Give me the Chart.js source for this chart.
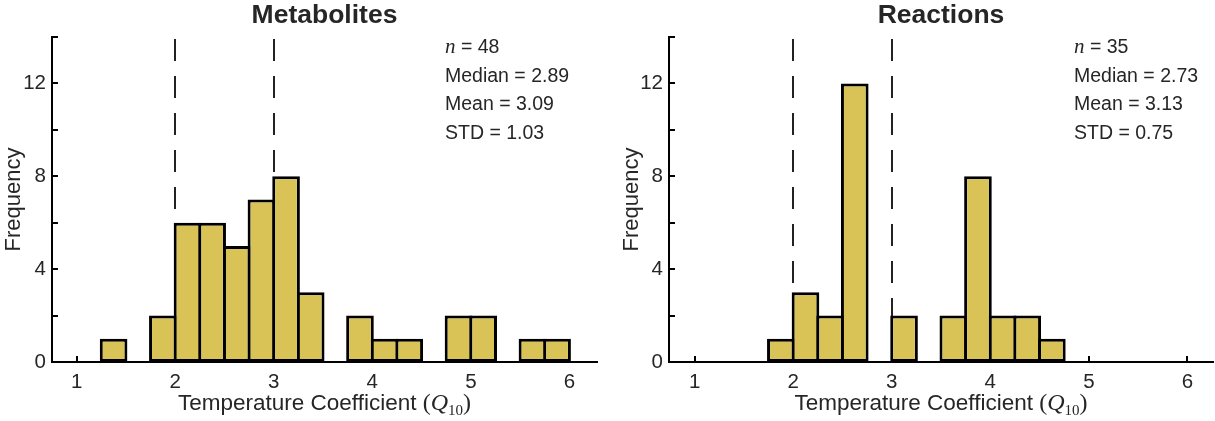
<!DOCTYPE html>
<html>
<head>
<meta charset="utf-8">
<script src="https://cdn.jsdelivr.net/npm/chart.js@4.4.0/dist/chart.umd.min.js"></script>
<style>
  body { margin: 0; background: #fff; }
  #wrap { position: relative; width: 1215px; height: 421px; }
  canvas { position: absolute; top: 0; }
</style>
</head>
<body>
<div id="wrap">
  <canvas id="metabolites" width="607" height="421" style="left:0"></canvas>
  <canvas id="reactions" width="608" height="421" style="left:607px"></canvas>
</div>
<script>
'use strict';

// left edge of every Q10 bin (bin width 0.25)
const binEdges = [1.25, 1.5, 1.75, 2, 2.25, 2.5, 2.75, 3, 3.25, 3.5, 3.75, 4, 4.25, 4.5, 4.75, 5, 5.25, 5.5, 5.75];
const binWidth = 0.25;

const metaboliteCounts = [1, 0, 2, 6, 6, 5, 7, 8, 3, 0, 2, 1, 1, 0, 2, 2, 0, 1, 1];
const reactionCounts = [0, 0, 1, 3, 2, 12, 0, 2, 0, 2, 8, 2, 2, 1, 0, 0, 0, 0, 0];

const metaboliteStats = ['48', '2.89', '3.09', '1.03'];
const reactionStats = ['35', '2.73', '3.13', '0.75'];

const xTicks = [1, 2, 3, 4, 5, 6];
const yTicks = [0, 2, 4, 6, 8, 10, 12, 14];
const yLabelled = [0, 4, 8, 12];
const refLines = [2, 3];

const sans = '"Liberation Sans", Arial, Helvetica, sans-serif';
const serif = '"Liberation Serif", "Times New Roman", serif';
const textColor = '#262626';

function line(ctx, x1, y1, x2, y2) {
    ctx.beginPath();
    ctx.moveTo(x1, y1);
    ctx.lineTo(x2, y2);
    ctx.stroke();
}

// draws inward ticks, dashed guides, title, stats box and the x axis title
const decor = {
    id: 'decor',
    beforeDatasetsDraw(chart, args, opts) {
        const ctx = chart.ctx;
        const a = chart.chartArea;
        const xs = chart.scales.x;
        const ys = chart.scales.y;
        ctx.save();
        ctx.strokeStyle = '#000';
        ctx.lineWidth = 2;
        ys.ticks.forEach(t => {
            let py = Math.round(ys.getPixelForValue(t.value));
            line(ctx, a.left, py, a.left + 6, py);
        });
        xs.ticks.forEach(t => {
            let px = Math.round(xs.getPixelForValue(t.value));
            line(ctx, px, a.bottom, px, a.bottom - 6);
        });

        ctx.strokeStyle = '#222';
        ctx.setLineDash([22, 15]);
        refLines.forEach(v => {
            let px = Math.round(xs.getPixelForValue(v));
            line(ctx, px, a.top + 2, px, a.bottom);
        });
        ctx.restore();
    },
    afterDraw(chart, args, opts) {
        const ctx = chart.ctx;
        const a = chart.chartArea;
        const cx = (a.left + a.right) / 2;
        ctx.save();
        ctx.fillStyle = textColor;

        ctx.font = 'bold 26.5px ' + sans;
        ctx.textAlign = 'center';
        ctx.textBaseline = 'alphabetic';
        ctx.fillText(opts.title, cx, 23);

        // stats
        ctx.textAlign = 'left';
        ctx.textBaseline = 'middle';
        let sx = opts.statsX;
        ctx.font = 'italic 21px ' + serif;
        ctx.fillText('n', sx, 47);
        let nw = ctx.measureText('n').width;
        ctx.font = '19.5px ' + sans;
        ctx.fillText(' = ' + opts.stats[0], sx + nw, 48);
        ctx.fillText('Median = ' + opts.stats[1], sx, 76.5);
        ctx.fillText('Mean = ' + opts.stats[2], sx, 105);
        ctx.fillText('STD = ' + opts.stats[3], sx, 133.5);

        // x axis title with Q10
        let parts = [
            {t: 'Temperature Coefficient ', f: '22.5px ' + sans, dy: 0},
            {t: '(', f: '24px ' + serif, dy: 0},
            {t: 'Q', f: 'italic 24px ' + serif, dy: 0},
            {t: '10', f: '15px ' + serif, dy: 5},
            {t: ')', f: '24px ' + serif, dy: 0}
        ];
        let total = 0;
        parts.forEach(p => { ctx.font = p.f; p.w = ctx.measureText(p.t).width; total += p.w; });
        let px = cx - total / 2;
        ctx.textBaseline = 'alphabetic';
        parts.forEach(p => {
            ctx.font = p.f;
            ctx.fillText(p.t, px, 410 + p.dy);
            px += p.w;
        });
        ctx.restore();
    }
};

function histogram(canvasId, counts, stats, title, setup) {
    let points = [];
    for (let i = 0; i < binEdges.length; i++) {
        points.push({x: binEdges[i] + binWidth / 2, y: counts[i]});
    }
    let ctx = document.getElementById(canvasId).getContext('2d');
    return new Chart(ctx, {
        type: 'bar',
        data: {
            datasets: [{
                data: points,
                backgroundColor: '#D9C356',
                borderColor: '#000',
                borderWidth: 3,
                borderSkipped: false,
                inflateAmount: 0,
                barPercentage: 1.122,
                categoryPercentage: 1
            }]
        },
        options: {
            responsive: false,
            animation: false,
            devicePixelRatio: 1,
            layout: {padding: {top: 37, right: setup.padRight, bottom: 0, left: 0}},
            plugins: {
                legend: {display: false},
                title: {display: false},
                tooltip: {enabled: false},
                decor: {title: title, stats: stats, statsX: setup.statsX}
            },
            scales: {
                x: {
                    type: 'linear',
                    offset: false,
                    min: setup.xMin,
                    max: setup.xMax,
                    afterBuildTicks: s => { s.ticks = xTicks.map(v => ({value: v})); },
                    afterFit: s => { s.height = 59; },
                    grid: {display: false, drawTicks: false},
                    border: {display: true, color: '#000', width: 2},
                    ticks: {
                        color: textColor,
                        font: {family: sans, size: 20.5},
                        padding: 8,
                        maxRotation: 0
                    }
                },
                y: {
                    min: 0,
                    max: 14,
                    afterBuildTicks: s => { s.ticks = yTicks.map(v => ({value: v})); },
                    afterFit: s => { s.width = setup.yWidth; },
                    grid: {display: false, drawTicks: false},
                    border: {display: true, color: '#000', width: 2},
                    ticks: {
                        color: textColor,
                        font: {family: sans, size: 20.5},
                        padding: 6,
                        callback: v => yLabelled.includes(v) ? String(v) : ''
                    },
                    title: {
                        display: true,
                        text: 'Frequency',
                        color: textColor,
                        font: {family: sans, size: 22, weight: 'normal'},
                        padding: {top: setup.yTitlePad}
                    }
                }
            }
        },
        plugins: [decor]
    });
}

histogram('metabolites', metaboliteCounts, metaboliteStats, 'Metabolites',
    {xMin: 0.75, xMax: 6.28, yWidth: 52, padRight: 10, statsX: 445, yTitlePad: 1});
histogram('reactions', reactionCounts, reactionStats, 'Reactions',
    {xMin: 0.74, xMax: 6.26, yWidth: 62, padRight: 2, statsX: 467, yTitlePad: 12});
</script>
</body>
</html>
